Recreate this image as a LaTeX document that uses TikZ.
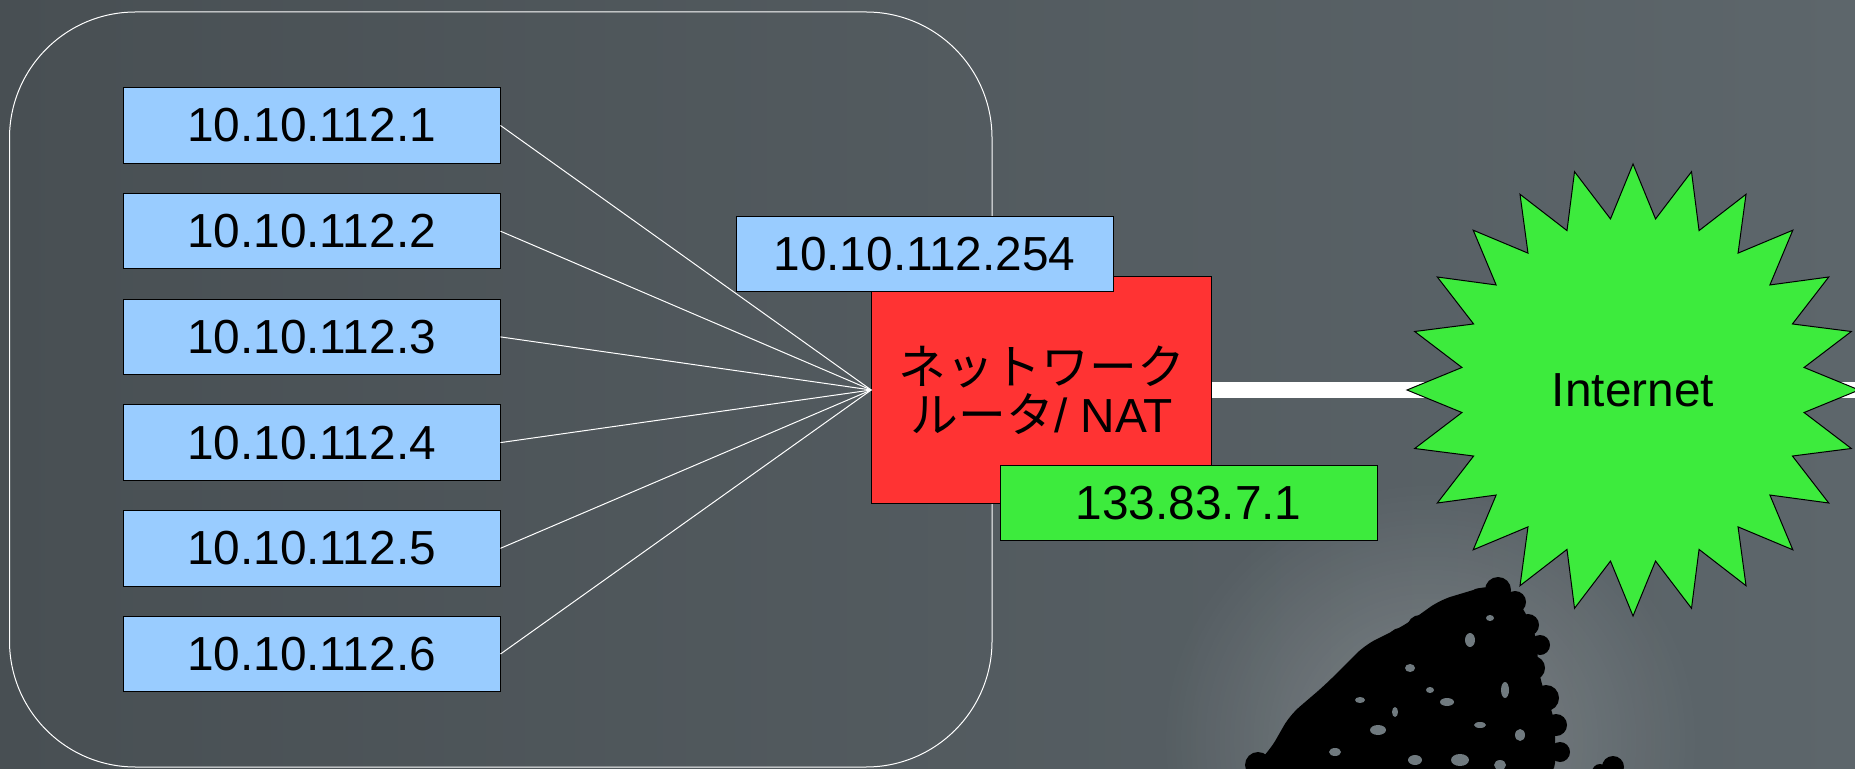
\documentclass[tikz,border=0pt]{standalone}
\usepackage{fontspec}
\setmainfont{Liberation Sans}
\newfontfamily\jpfont{Noto Sans CJK JP}
\usepackage{tikz}
\usetikzlibrary{shapes.geometric}
\usetikzlibrary{fadings}
\definecolor{HostBlue}{RGB}{153,204,255}
\definecolor{RouterRed}{RGB}{255,51,51}
\definecolor{NetGreen}{RGB}{61,235,61}
\definecolor{SlideDark}{RGB}{72,79,83}
\definecolor{SlideLight}{RGB}{93,102,107}
\definecolor{Haze}{RGB}{112,122,127}
\tikzfading[name=glow, inner color=transparent!0, outer color=transparent!100]

\begin{document}
\begin{tikzpicture}[x=0.5pt,y=-0.5pt,
  addr/.style={draw=black, line width=0.5pt, fill=HostBlue, inner sep=0pt,
    minimum width=188.5pt, minimum height=37.75pt, font=\fontsize{23.9}{24}\selectfont},
  router/.style={draw=black, line width=0.5pt, fill=RouterRed, inner sep=0pt, align=center,
    minimum width=170pt, minimum height=113.3pt, font=\fontsize{23.9}{24}\selectfont},
  burst/.style={star, star points=24, star point ratio=1.31, minimum size=226pt,
    draw=black, line width=0.5pt, fill=NetGreen, inner sep=0pt, font=\fontsize{23.9}{24}\selectfont},
  link/.style={white, line width=0.5pt}]
\useasboundingbox (0,0) rectangle (1855,769);
\shade[left color=SlideDark, right color=SlideLight] (0,0) rectangle (1855,769);

% tree in the lower right corner
\begin{scope}
\clip (0,0) rectangle (1855,769);
\fill[white, opacity=0.22, path fading=glow] (1430,740) ellipse (270 and 260);
\fill[black, rounded corners=6pt]
  (1245,775) -- (1270,750) -- (1290,715) -- (1325,685) -- (1365,645) -- (1405,625)
  -- (1440,600) -- (1490,585) -- (1515,595) -- (1535,630) -- (1540,680) -- (1555,720)
  -- (1555,775) -- cycle;
\fill[black]
  (1498,590) circle (13) (1515,602) circle (11) (1480,600) circle (12)
  (1462,610) circle (12) (1445,620) circle (13) (1528,625) circle (11) (1540,645) circle (10)
  (1420,628) circle (13) (1400,640) circle (12) (1382,655) circle (12) (1365,673) circle (13)
  (1533,668) circle (12) (1546,698) circle (13) (1342,695) circle (13) (1322,712) circle (11)
  (1556,725) circle (11) (1302,733) circle (13) (1285,752) circle (13) (1560,752) circle (10)
  (1258,765) circle (13) (1613,767) circle (11) (1600,772) circle (8);
% gaps in the crown
\fill[Haze] (1470,640) ellipse (5 and 7) (1447,702) ellipse (7 and 4) (1505,690) ellipse (4 and 8)
  (1410,668) ellipse (5 and 4) (1378,730) ellipse (8 and 5) (1520,735) ellipse (5 and 6)
  (1490,618) ellipse (4 and 3) (1335,752) ellipse (6 and 4) (1460,760) ellipse (9 and 6)
  (1415,760) ellipse (7 and 5) (1500,765) ellipse (6 and 5) (1430,690) ellipse (4 and 3)
  (1360,700) ellipse (5 and 3) (1480,725) ellipse (6 and 3) (1395,712) ellipse (3 and 5);
\end{scope}

\draw[white, line width=0.5pt, rounded corners=63pt] (9.5,12) rectangle (992,767);

\node[router] (nat) at (1041.7,390) {{\jpfont ネットワーク}\\{\jpfont ルータ}/ NAT};
\node[addr] (lan) at (924.5,254.2) {10.10.112.254};
\node[addr, fill=NetGreen] (wan) at (1188.5,503) {133.83.7.1};

\node[addr] (h1) at (311.5,125.5) {10.10.112.1};
\node[addr] (h2) at (311.5,231.2) {10.10.112.2};
\node[addr] (h3) at (311.5,336.9) {10.10.112.3};
\node[addr] (h4) at (311.5,442.6) {10.10.112.4};
\node[addr] (h5) at (311.5,548.3) {10.10.112.5};
\node[addr] (h6) at (311.5,654) {10.10.112.6};

\draw[link] (h1.east) -- (nat.west);
\draw[link] (h2.east) -- (nat.west);
\draw[link] (h3.east) -- (nat.west);
\draw[link] (h4.east) -- (nat.west);
\draw[link] (h5.east) -- (nat.west);
\draw[link] (h6.east) -- (nat.west);

\coordinate (edge) at (1855,390);
\draw[white, line width=8pt] (nat.east) -- (edge);
\node[burst] (inet) at (1633,390) {Internet};
\end{tikzpicture}
\end{document}
